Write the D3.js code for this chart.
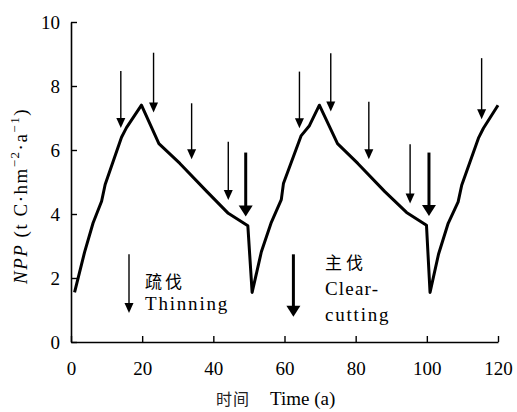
<!DOCTYPE html>
<html>
<head>
<meta charset="utf-8">
<script src="https://cdn.jsdelivr.net/npm/d3@7"></script>
<style>
  html, body { margin: 0; padding: 0; background: #fff; }
  svg { display: block; }
  text { font-family: "Liberation Serif", "Times New Roman", serif; fill: #000; }
  .cjk { font-family: "Noto Sans CJK SC", sans-serif; }
</style>
</head>
<body>
<svg id="chart" width="517" height="412"></svg>
<script>
// ---- data ----
const years = [1, 3.8, 6.2, 8.6, 9.6, 14.2, 15.6, 19.8, 24.7, 30.6, 38.2, 44.2, 49.7,
               50.9, 53.5, 56.3, 59.1, 59.7, 64.7, 67.0, 69.8, 74.9, 80.6, 88.2, 94.3, 99.9,
               100.9, 103.3, 106.0, 108.8, 109.8, 114.5, 115.9, 120];
const npp   = [1.55, 2.8, 3.72, 4.4, 4.92, 6.4, 6.7, 7.4, 6.2, 5.58, 4.7, 4.02, 3.63,
               1.55, 2.82, 3.74, 4.45, 4.95, 6.45, 6.76, 7.4, 6.2, 5.58, 4.7, 4.05, 3.65,
               1.55, 2.75, 3.71, 4.38, 4.9, 6.37, 6.68, 7.4];

// management arrows: year, value at arrow top, value at arrow tip, kind
const arrowYears = [14, 23.2, 33.9, 44.2, 49.1, 64.2, 73.0, 83.7, 95.3, 100.6, 115.4];
const arrowTop   = [8.47, 9.04, 7.46, 6.26, 5.92, 8.45, 9.02, 7.51, 6.18, 5.92, 8.87];
const arrowTip   = [6.69, 7.17, 5.71, 4.44, 3.92, 6.68, 7.20, 5.71, 4.33, 3.94, 6.96];
const arrowKind  = ["thin", "thin", "thin", "thin", "clear", "thin", "thin", "thin", "thin", "clear", "thin"];

const xTicks = [0, 20, 40, 60, 80, 100, 120];
const yTicks = [0, 2, 4, 6, 8, 10];

const legendLabels = {
  thin:  ["疏伐", "Thinning"],
  clear: ["主伐", "Clear-", "cutting"]
};

// ---- drawing ----
const svg = d3.select("#chart");
const x = d3.scaleLinear().domain([0, 120]).range([71, 498]);
const y = d3.scaleLinear().domain([0, 10]).range([342, 22]);

// axes
const xAxis = d3.axisBottom(x).tickValues(xTicks).tickSizeInner(-6).tickSizeOuter(0).tickPadding(20);
const yAxis = d3.axisLeft(y).tickValues(yTicks).tickSizeInner(-6).tickSizeOuter(0).tickPadding(11);

const gx = svg.append("g").attr("transform", `translate(0,${y(0)})`).call(xAxis);
const gy = svg.append("g").attr("transform", `translate(${x(0)},0)`).call(yAxis);
[gx, gy].forEach(g => {
  g.attr("font-family", null);
  g.select(".domain").attr("stroke", "#000").attr("stroke-width", 1.6);
  g.selectAll(".tick line").attr("stroke", "#000").attr("stroke-width", 1.4);
  g.selectAll(".tick text").attr("font-size", 19).attr("fill", "#000");
});

// NPP line
const pts = years.map((d, i) => [d, npp[i]]);
svg.append("path")
  .datum(pts)
  .attr("fill", "none")
  .attr("stroke", "#000")
  .attr("stroke-width", 3)
  .attr("stroke-linejoin", "round")
  .attr("d", d3.line().x(d => x(d[0])).y(d => y(d[1])));

// arrows
const arrowStyle = {
  thin:  { w: 1.4, hw: 9,  hl: 10 },
  clear: { w: 3,   hw: 14, hl: 11 }
};
function drawArrow(px, yTop, yTip, kind) {
  const s = arrowStyle[kind];
  svg.append("line")
    .attr("x1", px).attr("x2", px)
    .attr("y1", yTop).attr("y2", yTip - s.hl + 1)
    .attr("stroke", "#000").attr("stroke-width", s.w);
  svg.append("path")
    .attr("d", `M${px - s.hw / 2},${yTip - s.hl} L${px + s.hw / 2},${yTip - s.hl} L${px},${yTip} Z`)
    .attr("fill", "#000");
}
arrowYears.forEach((yr, i) => drawArrow(x(yr), y(arrowTop[i]), y(arrowTip[i]), arrowKind[i]));

// legend
drawArrow(x(16.3), y(2.74), y(0.91), "thin");
drawArrow(x(62.5), y(2.74), y(0.79), "clear");

svg.append("text").attr("class", "cjk").attr("x", 145).attr("y", 288)
  .attr("font-size", 17).attr("letter-spacing", 3).attr("fill", "#222").text(legendLabels.thin[0]);
svg.append("text").attr("x", 145).attr("y", 310)
  .attr("font-size", 19).attr("letter-spacing", 1.8).text(legendLabels.thin[1]);

svg.append("text").attr("class", "cjk").attr("x", 325).attr("y", 269)
  .attr("font-size", 17).attr("letter-spacing", 4).attr("fill", "#222").text(legendLabels.clear[0]);
svg.append("text").attr("x", 325).attr("y", 295)
  .attr("font-size", 19).attr("letter-spacing", 1.2).text(legendLabels.clear[1]);
svg.append("text").attr("x", 325).attr("y", 321)
  .attr("font-size", 19).attr("letter-spacing", 1.8).text(legendLabels.clear[2]);

// x axis title
const xt = svg.append("text").attr("x", 216).attr("y", 405).attr("font-size", 19);
xt.append("tspan").attr("class", "cjk").attr("font-size", 16).attr("letter-spacing", 1).attr("fill", "#222").text("时间");
xt.append("tspan").attr("x", 270).text("Time (a)");

// y axis title
const yt = svg.append("text")
  .attr("transform", "translate(27,196) rotate(-90)")
  .attr("text-anchor", "middle")
  .attr("font-size", 19)
  .attr("letter-spacing", 1.5);
yt.append("tspan").attr("font-style", "italic").text("NPP");
yt.append("tspan").text(" (t C·hm");
yt.append("tspan").attr("font-size", 13).attr("dy", -8).text("−2");
yt.append("tspan").attr("dy", 8).text("·a");
yt.append("tspan").attr("font-size", 13).attr("dy", -8).text("−1");
yt.append("tspan").attr("dy", 8).text(")");
</script>
</body>
</html>
